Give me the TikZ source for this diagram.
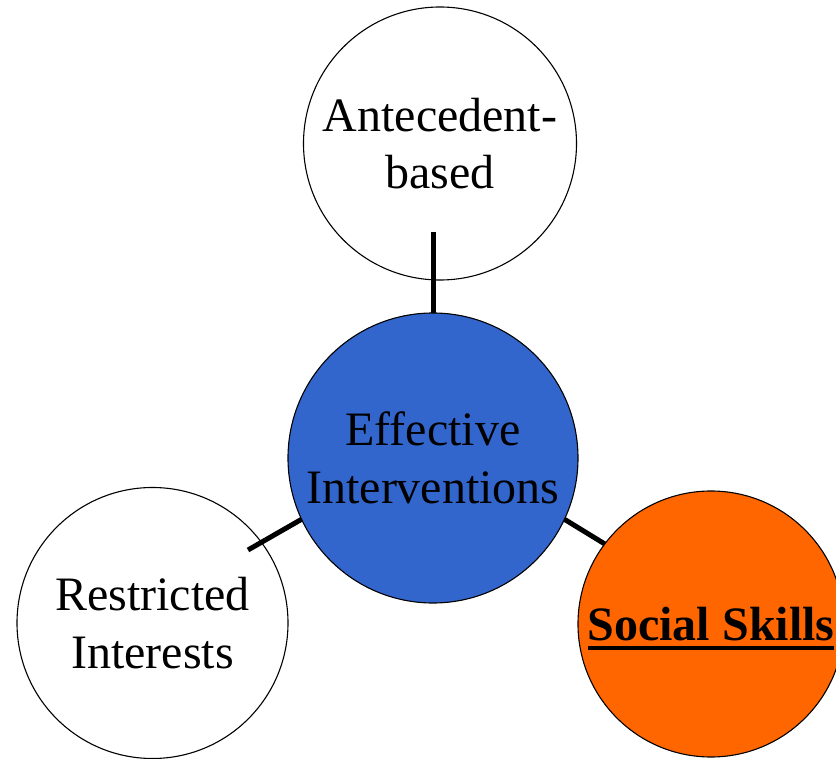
\documentclass[tikz,border=0pt]{standalone}
\usepackage{fontspec}
\setmainfont{Liberation Serif}
\usepackage{xcolor}
\definecolor{effblue}{RGB}{51,102,204}
\definecolor{socorange}{RGB}{255,102,0}
\newcommand{\thickul}[1]{\setbox0\hbox{#1}\rlap{\rule[-9.5pt]{\wd0}{4.5pt}}\box0}

\begin{document}
\begin{tikzpicture}[x=1pt,y=-1pt,
  bubble/.style={circle,draw=black,line width=1.1pt,inner sep=0pt,outer sep=0pt,
    align=center,font=\fontsize{48}{57.6}\selectfont},
  link/.style={line width=5pt}]
\useasboundingbox (0,0) rectangle (836,759);
\node[bubble,fill=white,minimum size=273pt] (ante) at (440,143.5) {Antecedent-\\based};
\node[bubble,fill=white,minimum size=271pt] (restr) at (152.5,623) {Restricted\\Interests};
\node[bubble,fill=effblue,minimum size=290pt] (eff) at (433,458) {Effective\\Interventions};
\node[bubble,fill=socorange,minimum size=266pt,text depth=0pt] (soc) at (711,624) {\bfseries\thickul{Social Skills}};
\coordinate (anteEnd) at (433,232);
\coordinate (restrEnd) at (248,550);
\draw[link] (eff.north) -- (anteEnd);
\draw[link] (eff.205) -- (restrEnd);
\draw[link] (eff.-25) -- (soc.143);
\end{tikzpicture}
\end{document}
